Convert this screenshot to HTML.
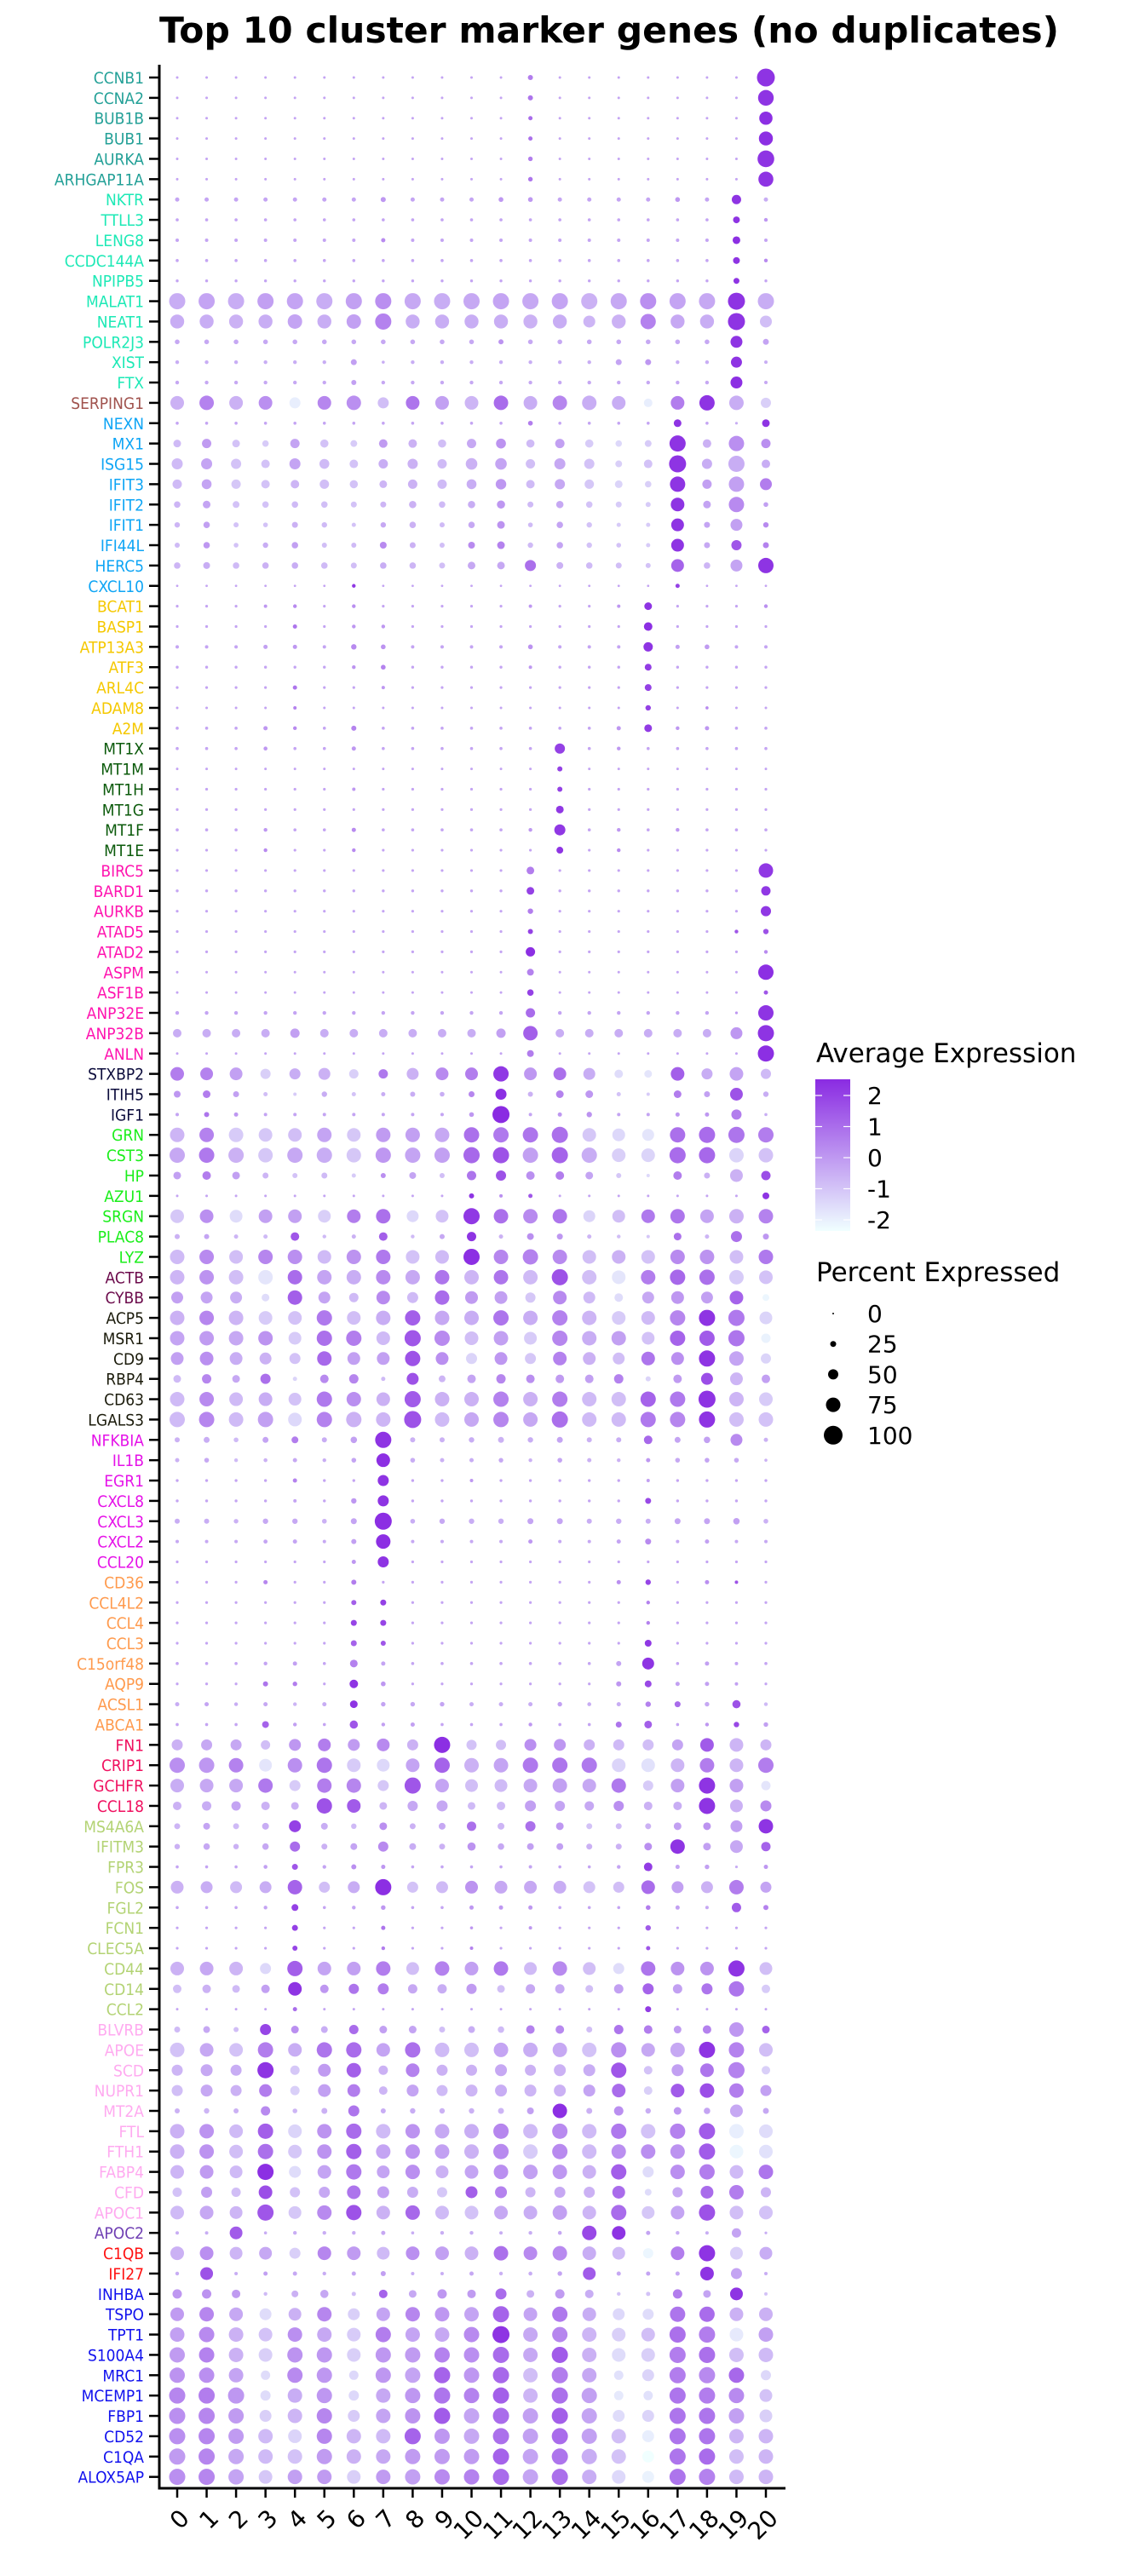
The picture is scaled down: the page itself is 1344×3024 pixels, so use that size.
<!DOCTYPE html>
<html><head><meta charset="utf-8"><title>Top 10 cluster marker genes</title>
<style>
html,body{margin:0;padding:0;background:#fff;}
svg{display:block;font-family:"DejaVu Sans","Liberation Sans",sans-serif;}
</style></head>
<body>
<svg id="chart" width="1344" height="3024" viewBox="0 0 1344 3024" xmlns="http://www.w3.org/2000/svg">
<rect width="1344" height="3024" fill="#fff"/>
<text x="187" y="50" font-size="42" font-weight="bold" textLength="1056" lengthAdjust="spacingAndGlyphs">Top 10 cluster marker genes (no duplicates)</text>
<g id="rowlabels"></g>
<g id="dots"></g>
<g id="xaxis"></g>
<line x1="187" y1="76" x2="187" y2="2922.5" stroke="#000" stroke-width="3"/>
<line x1="185.5" y1="2921" x2="922" y2="2921" stroke="#000" stroke-width="3"/>
<g>
<defs><linearGradient id="cg" x1="0" y1="1" x2="0" y2="0"><stop offset="0" stop-color="#f0ffff"/><stop offset="1" stop-color="#8a2be2"/></linearGradient></defs>
<text x="958" y="1247" font-size="31">Average Expression</text>
<rect x="957" y="1267" width="41" height="178" fill="url(#cg)"/>
<g id="cticks"></g>
</g>
<g>
<text x="958" y="1504" font-size="31">Percent Expressed</text>
<g id="sticks"></g>
</g>
</svg>
<script>
const clusters = ["0","1","2","3","4","5","6","7","8","9","10","11","12","13","14","15","16","17","18","19","20"];
const genes = ["CCNB1","CCNA2","BUB1B","BUB1","AURKA","ARHGAP11A","NKTR","TTLL3","LENG8","CCDC144A","NPIPB5","MALAT1","NEAT1","POLR2J3","XIST","FTX","SERPING1","NEXN","MX1","ISG15","IFIT3","IFIT2","IFIT1","IFI44L","HERC5","CXCL10","BCAT1","BASP1","ATP13A3","ATF3","ARL4C","ADAM8","A2M","MT1X","MT1M","MT1H","MT1G","MT1F","MT1E","BIRC5","BARD1","AURKB","ATAD5","ATAD2","ASPM","ASF1B","ANP32E","ANP32B","ANLN","STXBP2","ITIH5","IGF1","GRN","CST3","HP","AZU1","SRGN","PLAC8","LYZ","ACTB","CYBB","ACP5","MSR1","CD9","RBP4","CD63","LGALS3","NFKBIA","IL1B","EGR1","CXCL8","CXCL3","CXCL2","CCL20","CD36","CCL4L2","CCL4","CCL3","C15orf48","AQP9","ACSL1","ABCA1","FN1","CRIP1","GCHFR","CCL18","MS4A6A","IFITM3","FPR3","FOS","FGL2","FCN1","CLEC5A","CD44","CD14","CCL2","BLVRB","APOE","SCD","NUPR1","MT2A","FTL","FTH1","FABP4","CFD","APOC1","APOC2","C1QB","IFI27","INHBA","TSPO","TPT1","S100A4","MRC1","MCEMP1","FBP1","CD52","C1QA","ALOX5AP"];
const groupSizes = [6,10,1,9,7,6,10,3,7,2,6,7,8,4,10,10,1,2,10];
const groupColors = ["#23a097","#1de9b6","#a0524d","#0ea5f5","#f5c800","#0b5a0b","#ff14b0","#0b0b3b","#1aee1a","#6b0a4b","#1b1b0b","#e511e8","#ff9a4d","#f00f5f","#b3d374","#ffaaf0","#6f3fb3","#ff1111","#1111ee"];
const colorTicks = [2,1,0,-1,-2];
const sizeTicks = [0,25,50,75,100];
const pct = [
[5,5,5,5,5,5,5,5,5,5,5,5,20,5,5,5,5,5,5,5,95],
[5,5,5,5,5,5,5,5,5,5,5,5,20,5,5,5,5,5,5,5,82],
[5,5,5,5,5,5,5,5,5,5,5,5,15,5,5,5,5,5,5,5,68],
[5,5,5,5,5,5,5,5,5,5,5,5,15,5,5,5,5,5,5,5,72],
[5,5,5,5,5,5,5,5,5,5,5,5,17,5,5,5,5,5,5,5,88],
[5,5,5,5,5,5,5,5,5,5,5,5,17,5,5,5,5,5,5,5,78],
[15,15,15,15,15,15,15,20,15,15,15,18,18,15,15,15,15,18,15,45,15],
[8,8,8,8,8,8,8,8,8,8,8,8,8,8,8,8,8,8,8,30,12],
[10,10,10,10,10,10,10,15,10,10,10,10,10,10,10,10,10,10,10,35,10],
[8,8,8,8,8,8,8,8,8,8,8,8,8,8,8,8,8,8,8,30,12],
[7,7,7,7,7,7,7,7,7,7,7,7,7,7,7,7,7,7,7,25,7],
[85,85,85,85,85,85,85,85,85,85,85,85,85,85,85,85,85,85,85,90,85],
[72,72,72,72,75,72,75,85,72,72,72,72,72,72,60,72,80,72,72,90,60],
[18,18,18,18,18,18,18,18,18,18,18,20,18,18,18,18,18,18,18,60,25],
[12,12,12,12,12,12,25,8,12,12,12,12,12,12,12,25,25,12,12,55,10],
[12,12,12,12,12,12,20,12,12,12,12,12,12,12,12,12,12,12,12,60,10],
[70,75,70,70,55,70,75,55,70,70,70,75,70,75,75,70,40,70,80,75,50],
[8,8,8,8,8,8,8,8,8,8,8,8,18,8,8,8,8,35,8,6,35],
[35,45,35,28,45,38,30,40,40,38,45,48,38,45,38,28,30,85,40,80,45],
[55,55,50,40,55,48,40,45,50,45,58,58,45,55,50,30,40,90,50,85,40],
[45,48,45,40,40,45,38,35,45,45,48,52,40,50,45,35,28,80,45,80,60],
[28,35,30,28,28,28,25,25,33,28,33,38,25,33,28,25,20,70,35,80,18],
[22,28,20,18,25,22,15,22,28,20,28,35,18,28,22,15,15,65,25,60,22],
[20,28,18,22,28,20,20,30,25,20,30,35,22,28,22,18,15,65,25,50,25],
[28,30,28,28,28,28,25,28,28,25,35,35,55,30,28,25,20,65,28,60,80],
[4,4,4,4,4,4,12,4,4,4,4,4,4,4,4,4,4,15,4,4,4],
[6,6,6,10,12,6,12,6,6,6,6,6,10,6,6,10,35,6,6,6,12],
[6,6,6,6,15,6,12,12,6,6,6,6,6,6,6,6,40,6,6,6,6],
[10,10,10,15,15,10,22,18,10,10,10,10,18,10,10,10,45,15,18,10,10],
[7,7,7,7,7,7,12,18,7,7,7,7,10,7,7,7,30,7,7,7,7],
[6,6,6,6,15,6,6,10,6,6,6,6,6,6,6,6,30,6,6,6,6],
[5,5,5,5,10,5,5,5,5,5,5,5,5,5,5,5,22,5,8,5,5],
[8,8,8,15,12,8,20,8,8,8,8,8,8,8,8,15,35,12,15,8,8],
[8,8,8,13,8,8,15,8,8,8,8,8,8,50,8,12,8,8,8,8,8],
[5,5,5,5,5,5,5,5,5,5,5,5,5,20,5,5,5,5,5,5,5],
[6,6,6,6,6,6,10,6,6,6,6,6,6,20,6,6,6,6,6,6,6],
[6,6,6,6,6,6,6,6,6,6,6,6,6,35,6,6,6,6,6,6,6],
[8,8,8,12,8,8,15,8,8,8,8,8,12,55,8,12,8,12,8,8,8],
[6,6,6,12,6,6,12,6,6,6,6,6,6,30,6,12,6,6,6,6,6],
[6,6,6,6,6,6,6,6,6,6,6,6,35,6,6,6,6,6,6,6,75],
[7,7,7,7,7,7,7,7,7,7,7,7,35,7,7,7,7,7,7,7,45],
[6,6,6,6,6,6,6,6,6,6,6,6,22,6,6,6,6,6,6,6,50],
[6,6,6,6,6,6,6,6,6,6,6,6,20,6,6,6,6,6,6,12,22],
[6,6,6,6,6,6,6,6,6,6,6,6,45,6,6,6,6,6,6,6,12],
[5,5,5,5,5,5,5,5,5,5,5,5,30,5,5,5,5,5,5,5,80],
[5,5,5,5,5,5,5,5,5,5,5,5,28,5,5,5,5,5,5,5,15],
[12,12,12,12,12,12,12,12,12,12,12,12,45,12,12,12,12,12,12,6,80],
[40,40,40,40,45,40,40,40,40,40,40,45,75,40,40,40,40,40,40,60,85],
[5,5,5,5,5,5,5,5,5,5,5,5,30,5,5,5,5,5,5,5,85],
[70,65,65,50,55,60,45,45,60,65,65,80,65,65,60,40,35,70,55,70,50],
[30,35,25,15,10,22,15,15,20,18,25,55,20,35,35,15,10,35,25,65,22],
[10,20,15,10,10,10,10,10,10,10,18,90,10,15,22,10,10,15,15,50,8],
[75,75,75,70,70,75,70,75,75,75,80,80,80,85,70,65,60,80,85,85,80],
[80,80,80,75,80,80,75,80,80,80,85,85,80,85,80,70,70,85,85,75,75],
[35,40,35,25,20,25,15,20,30,20,45,50,40,40,35,20,10,40,25,65,45],
[5,5,5,5,5,5,5,5,5,5,20,10,15,5,5,5,5,5,5,5,30],
[70,70,65,70,70,65,70,75,60,65,85,75,75,75,60,65,70,75,70,75,75],
[20,20,15,15,40,12,15,40,12,20,45,15,30,25,15,12,10,35,15,55,25],
[75,75,70,75,75,70,75,75,70,70,85,75,80,75,70,70,70,75,75,70,75],
[75,75,75,75,75,75,75,75,75,75,75,75,75,85,75,70,75,80,80,75,70],
[60,60,60,35,75,60,45,70,55,75,65,65,50,70,60,40,60,65,60,70,30],
[75,75,75,70,70,80,70,75,80,75,75,80,75,80,75,70,70,80,85,85,65],
[75,75,75,75,65,80,80,70,85,80,70,75,65,80,75,75,65,80,80,85,45],
[65,70,65,60,55,75,65,65,80,65,55,65,55,70,65,60,70,65,85,75,50],
[35,45,35,50,15,40,45,15,60,30,40,45,40,40,40,45,20,40,60,65,40],
[75,75,70,70,65,80,75,70,85,75,75,80,75,80,75,75,80,80,90,75,70],
[80,80,75,80,70,80,80,75,90,75,75,80,75,85,75,75,80,80,85,75,75],
[20,25,18,25,30,20,28,85,20,20,22,25,22,25,20,20,40,25,28,60,15],
[15,18,12,13,15,12,18,70,18,15,15,17,12,18,15,12,15,18,18,18,8],
[7,7,7,7,15,7,7,55,7,7,10,7,7,7,7,7,10,7,7,7,7],
[7,7,7,7,10,7,22,55,7,7,7,7,7,7,7,7,25,7,7,7,7],
[20,20,17,22,22,18,25,90,18,22,22,22,25,25,20,22,20,25,25,28,18],
[10,10,10,14,15,10,20,75,10,10,10,10,15,10,10,15,25,10,15,10,10],
[6,6,6,6,6,6,15,55,6,6,6,6,6,6,6,6,6,6,6,6,6],
[6,6,6,15,6,6,20,6,6,6,6,6,6,6,6,15,22,6,15,10,6],
[6,6,6,6,6,6,20,25,6,6,6,6,6,6,6,6,12,6,6,6,6],
[6,6,6,6,6,6,25,25,6,6,6,6,6,6,6,6,12,6,6,6,6],
[6,6,6,6,6,6,25,20,6,6,6,6,6,6,6,6,30,6,6,6,6],
[8,8,8,12,15,8,35,15,8,8,8,8,8,8,8,20,60,8,15,10,8],
[6,6,6,20,17,6,40,18,6,6,6,6,6,6,6,20,30,15,15,10,6],
[15,15,12,15,12,15,35,17,17,17,15,15,15,17,13,15,22,25,17,38,12],
[8,8,8,30,12,8,38,12,15,8,8,8,12,8,8,25,35,8,12,22,17],
[55,55,55,45,60,65,60,65,55,85,50,50,60,60,55,55,55,55,70,70,55],
[80,80,75,65,75,80,70,65,70,80,75,75,80,80,80,70,70,70,75,70,80],
[70,70,70,75,55,75,75,55,85,70,65,65,70,75,70,75,50,70,85,70,45],
[40,45,45,40,35,80,70,35,50,55,35,40,55,50,45,50,40,40,85,65,55],
[25,30,25,30,60,30,22,35,25,30,45,30,50,35,25,25,25,35,35,60,75],
[22,28,22,28,50,25,30,50,30,25,38,28,30,30,25,25,35,75,35,65,45],
[8,8,8,13,25,12,20,15,8,8,8,8,10,8,8,12,40,15,17,6,15],
[65,60,60,60,75,55,60,85,55,60,65,65,65,65,60,55,70,60,60,75,55],
[8,8,8,12,30,8,12,17,8,8,15,15,15,8,8,8,18,15,10,45,20],
[6,6,6,6,25,6,6,15,6,6,8,6,10,6,6,6,22,6,6,6,6],
[6,6,6,6,20,6,6,12,6,6,10,6,6,6,6,6,15,6,6,6,6],
[70,70,70,55,80,70,70,75,65,75,70,75,65,75,65,55,75,70,70,85,65],
[40,40,35,40,70,40,50,55,45,45,50,35,45,45,35,45,55,45,55,80,40],
[5,5,5,5,15,5,5,5,5,5,5,5,5,5,5,5,25,5,5,5,5],
[25,30,20,55,35,30,45,35,35,25,30,28,40,40,25,45,40,35,40,75,35],
[75,70,70,80,70,80,80,70,80,75,75,75,75,75,75,80,70,75,85,80,70],
[55,60,55,85,45,65,75,45,70,55,55,60,55,60,60,80,40,60,70,85,40],
[55,60,55,65,45,65,65,40,60,55,60,60,60,60,60,70,40,70,75,75,55],
[20,22,20,45,18,25,55,20,22,22,22,25,30,75,25,45,22,35,28,65,25],
[75,75,70,80,70,75,80,75,75,75,75,80,75,80,75,80,75,80,85,75,70],
[75,75,70,80,70,75,80,75,75,75,75,80,75,80,75,75,75,75,85,70,70],
[70,70,65,85,60,70,80,65,75,65,70,75,75,75,70,80,55,75,80,70,75],
[45,55,45,70,50,55,70,60,55,50,60,60,50,55,55,65,30,50,65,75,50],
[70,70,65,85,65,75,80,70,75,70,70,70,70,75,70,80,65,70,85,70,70],
[10,10,65,8,12,12,12,15,8,12,12,10,12,13,75,70,15,12,10,45,6],
[70,70,65,65,55,70,70,65,70,70,70,75,70,75,70,65,50,70,85,65,65],
[12,65,10,15,15,12,15,20,10,10,15,12,13,17,65,15,15,15,70,55,10],
[45,45,40,12,30,38,15,40,35,45,40,55,35,45,40,12,15,45,35,65,10],
[70,75,70,60,65,75,60,70,75,75,75,85,70,80,70,60,55,80,80,70,70],
[75,80,75,70,75,75,70,80,75,75,80,90,75,80,75,70,70,85,85,70,75],
[80,80,75,70,80,80,70,80,80,80,80,85,75,85,75,70,70,85,85,75,75],
[80,80,75,45,80,80,45,80,80,85,80,85,75,85,75,45,60,85,85,80,50],
[85,85,85,50,75,80,50,75,80,85,80,85,75,85,80,45,45,85,85,80,65],
[85,85,80,60,75,80,60,75,80,85,80,85,80,85,80,60,60,85,85,80,65],
[85,85,80,75,70,80,75,75,85,80,80,85,80,85,80,75,60,85,85,75,75],
[85,85,80,75,75,80,75,75,80,80,80,85,80,85,80,75,60,85,85,75,75],
[85,85,80,70,75,75,70,75,80,80,80,85,80,85,75,70,60,85,85,75,75]
];
const avg = [
[-.3,-.3,-.3,-.3,-.3,-.3,-.3,-.3,-.3,-.3,-.3,-.3,.6,-.3,-.3,-.3,-.3,-.3,-.3,-.3,2.3],
[-.3,-.3,-.3,-.3,-.3,-.3,-.3,-.3,-.3,-.3,-.3,-.3,.8,-.3,-.3,-.3,-.3,-.3,-.3,-.3,2.3],
[-.3,-.3,-.3,-.3,-.3,-.3,-.3,-.3,-.3,-.3,-.3,-.3,1.0,-.3,-.3,-.3,-.3,-.3,-.3,-.3,2.4],
[-.3,-.3,-.3,-.3,-.3,-.3,-.3,-.3,-.3,-.3,-.3,-.3,.9,-.3,-.3,-.3,-.3,-.3,-.3,-.3,2.4],
[-.3,-.3,-.3,-.3,-.3,-.3,-.3,-.3,-.3,-.3,-.3,-.3,.6,-.3,-.3,-.3,-.3,-.3,-.3,-.3,2.3],
[-.3,-.3,-.3,-.3,-.3,-.3,-.3,-.3,-.3,-.3,-.3,-.3,.8,-.3,-.3,-.3,-.3,-.3,-.3,-.3,2.3],
[-.3,-.3,-.3,-.3,-.3,-.3,-.3,0,-.3,-.3,-.3,0,0,-.3,-.3,-.3,-.3,0,-.3,2.3,-.5],
[-.3,-.3,-.3,-.3,-.3,-.3,-.3,-.3,-.3,-.3,-.3,-.3,-.3,-.3,-.3,-.3,-.3,-.3,-.3,2.3,0],
[-.3,-.3,-.3,-.3,-.3,-.3,-.3,.3,-.3,-.3,-.3,-.3,-.3,-.3,-.3,-.3,-.3,-.3,-.3,2.4,-.3],
[-.3,-.3,-.3,-.3,-.3,-.3,-.3,-.3,-.3,-.3,-.3,-.3,-.3,-.3,-.3,-.3,-.3,-.3,-.3,2.3,.3],
[-.3,-.3,-.3,-.3,-.3,-.3,-.3,-.3,-.3,-.3,-.3,-.3,-.3,-.3,-.3,-.3,-.3,-.3,-.3,2.3,-.3],
[-.5,-.3,-.5,-.2,-.3,-.5,-.2,.2,-.4,-.5,-.4,-.3,-.4,-.3,-.6,-.4,.2,-.3,-.4,2.3,-.5],
[-.5,-.5,-.6,-.5,-.3,-.5,-.2,.5,-.5,-.5,-.5,-.5,-.6,-.5,-.7,-.6,.5,-.4,-.5,2.3,-.9],
[-.4,-.4,-.4,-.4,-.4,-.4,-.4,-.4,-.4,-.4,-.4,.1,-.4,-.4,-.4,-.4,-.4,-.4,-.4,2.3,-.3],
[-.5,-.5,-.5,-.5,-.5,-.5,-.2,-.5,-.5,-.5,-.5,-.5,-.5,-.5,-.5,-.3,0,-.5,-.5,2.3,-.5],
[-.4,-.4,-.4,-.4,-.4,-.4,-.2,-.4,-.4,-.4,-.4,-.4,-.4,-.4,-.4,-.4,-.4,-.4,-.4,2.4,-.4],
[-.6,.5,-.6,.2,-2,.4,.2,-.9,.8,-.2,-.7,1,-.5,.4,-.5,-.5,-2,.6,2.3,-.5,-1.3],
[-.3,-.3,-.3,-.3,-.3,-.3,-.3,-.3,-.3,-.3,-.3,-.3,.6,-.3,-.3,-.3,-.3,2.3,-.3,-.5,2.3],
[-.8,-.1,-1,-1.2,-.3,-1,-1.2,-.1,-.6,-.9,-.4,.1,-.8,-.2,-1.2,-1.5,-1.2,2.3,-.6,.2,.2],
[-.8,-.3,-1,-1,-.3,-.8,-1,-.5,-.6,-.8,-.6,-.3,-.9,-.4,-1,-1.3,-1,2.3,-.5,-.5,-.5],
[-.8,-.3,-1.1,-1,-.7,-.9,-1,-.7,-.6,-.8,-.5,0,-.8,-.4,-1.1,-1.4,-1.3,2.3,-.2,-.2,.6],
[-.7,-.3,-1,-1,-.8,-.9,-1,-.7,-.6,-.8,-.5,0,-.8,-.4,-1,-1.2,-1.2,2.3,-.3,.3,-.2],
[-.7,-.2,-1,-1,-.6,-.8,-1,-.4,-.6,-.8,-.4,.1,-.8,-.3,-1,-1.2,-1.2,2.3,-.3,-.2,.3],
[-.8,0,-1,-.5,-.2,-.9,-.8,.3,-.6,-.9,.3,.5,-.8,-.3,-1,-1,-1.2,2.3,-.4,1.5,.5],
[-.7,-.5,-.8,-.6,-.5,-.8,-.9,-.5,-.7,-.9,-.4,-.4,.9,-.6,-.8,-.9,-1,1.2,-.7,-.3,2.3],
[-.3,-.3,-.3,-.3,-.3,-.3,2.2,-.3,-.3,-.3,-.3,-.3,-.3,-.3,-.3,-.3,-.3,2.0,-.3,-.3,-.3],
[-.3,-.3,-.3,0,.3,-.3,.2,-.3,-.3,-.3,-.3,-.3,0,-.3,-.3,0,2.3,-.3,-.3,-.3,.2],
[-.3,-.3,-.3,-.3,.8,-.3,0,0,-.3,-.3,-.3,-.3,-.3,-.3,-.3,-.3,2.4,-.3,-.3,-.3,-.3],
[-.3,-.3,-.3,-.2,0,-.3,.3,.1,-.3,-.3,-.3,-.3,.1,-.3,-.3,-.3,2.3,-.2,-.1,-.3,-.3],
[-.3,-.3,-.3,-.3,-.3,-.3,.1,.5,-.3,-.3,-.3,-.3,0,-.3,-.3,-.3,2.1,-.3,-.3,-.3,-.3],
[-.3,-.3,-.3,-.3,.8,-.3,-.3,0,-.3,-.3,-.3,-.3,-.3,-.3,-.3,-.3,2.0,-.3,-.3,-.3,-.3],
[-.3,-.3,-.3,-.3,.5,-.3,-.3,-.3,-.3,-.3,-.3,-.3,-.3,-.3,-.3,-.3,2.0,-.3,.3,-.3,-.3],
[-.3,-.3,-.3,0,.3,-.3,.5,-.3,-.3,-.3,-.3,-.3,-.3,-.3,-.3,0,2.1,0,0,-.3,-.3],
[-.3,-.3,-.3,0,-.3,-.3,0,-.3,-.3,-.3,-.3,-.3,-.3,2.0,-.3,0,-.3,-.3,-.3,-.3,-.3],
[-.3,-.3,-.3,-.3,-.3,-.3,-.3,-.3,-.3,-.3,-.3,-.3,-.3,2.0,-.3,-.3,-.3,-.3,-.3,-.3,-.3],
[-.3,-.3,-.3,-.3,-.3,-.3,0,-.3,-.3,-.3,-.3,-.3,-.3,2.0,-.3,-.3,-.3,-.3,-.3,-.3,-.3],
[-.3,-.3,-.3,-.3,-.3,-.3,-.3,-.3,-.3,-.3,-.3,-.3,-.3,2.2,-.3,-.3,-.3,-.3,-.3,-.3,-.3],
[-.3,-.3,-.3,0,-.3,-.3,.3,-.3,-.3,-.3,-.3,-.3,0,2.2,-.3,0,-.3,0,-.3,-.3,-.3],
[-.3,-.3,-.3,.3,-.3,-.3,.3,-.3,-.3,-.3,-.3,-.3,-.3,2.3,-.3,.3,-.3,-.3,-.3,-.3,-.3],
[-.3,-.3,-.3,-.3,-.3,-.3,-.3,-.3,-.3,-.3,-.3,-.3,.6,-.3,-.3,-.3,-.3,-.3,-.3,-.3,2.2],
[-.3,-.3,-.3,-.3,-.3,-.3,-.3,-.3,-.3,-.3,-.3,-.3,2.0,-.3,-.3,-.3,-.3,-.3,-.3,-.3,2.2],
[-.3,-.3,-.3,-.3,-.3,-.3,-.3,-.3,-.3,-.3,-.3,-.3,.6,-.3,-.3,-.3,-.3,-.3,-.3,-.3,2.2],
[-.3,-.3,-.3,-.3,-.3,-.3,-.3,-.3,-.3,-.3,-.3,-.3,2.0,-.3,-.3,-.3,-.3,-.3,-.3,1.5,1.6],
[-.3,-.3,-.3,-.3,-.3,-.3,-.3,-.3,-.3,-.3,-.3,-.3,2.4,-.3,-.3,-.3,-.3,-.3,-.3,-.3,.3],
[-.3,-.3,-.3,-.3,-.3,-.3,-.3,-.3,-.3,-.3,-.3,-.3,.5,-.3,-.3,-.3,-.3,-.3,-.3,-.3,2.4],
[-.3,-.3,-.3,-.3,-.3,-.3,-.3,-.3,-.3,-.3,-.3,-.3,2.0,-.3,-.3,-.3,-.3,-.3,-.3,-.3,1.5],
[-.3,-.3,-.3,-.3,-.3,-.3,-.3,-.3,-.3,-.3,-.3,-.3,1.0,-.3,-.3,-.3,-.3,-.3,-.3,0,2.3],
[-.5,-.5,-.5,-.5,-.2,-.5,-.5,-.5,-.5,-.5,-.5,-.2,1.3,-.5,-.5,-.5,-.5,-.5,-.5,0,2.3],
[-.3,-.3,-.3,-.3,-.3,-.3,-.3,-.3,-.3,-.3,-.3,-.3,.6,-.3,-.3,-.3,-.3,-.3,-.3,-.3,2.4],
[.6,.5,-.2,-1.3,-.5,-.6,-1.3,.7,-.6,.3,.6,2.2,0,.9,-.5,-1.6,-1.8,1.3,-.5,-.3,-.8],
[0,.6,-.2,-.9,-1.2,-.5,-1,-.5,-.5,-.5,.4,2.4,-.6,.5,0,-1,-1.2,.6,-.2,1.6,-.5],
[-.3,.8,0,-.3,-.3,-.3,-.3,-.3,-.3,-.3,0,2.5,-.3,0,.1,-.3,-.3,0,0,.6,-.5],
[-.7,.5,-1.2,-1.1,-.9,-.3,-1.1,-.1,-.2,-.4,.9,.7,.8,.9,-1.1,-1.5,-1.8,.9,1,.8,.6],
[-.4,.7,-.6,-1.1,-.4,-.5,-1.1,0,-.3,-.2,1.1,1.6,-.2,1.2,-.5,-1.3,-1.4,1,1.1,-1.4,-1],
[-.2,.6,-.2,-.7,-1,-.8,-1.2,.2,-.3,-.9,.8,1.6,.2,.6,-.3,-1.1,-1.5,.6,-.6,-.6,1.7],
[-.3,-.3,-.3,-.3,-.3,-.3,-.3,-.3,-.3,-.3,2.3,.2,1.5,-.3,-.3,-.3,-.3,-.3,-.3,-.3,2.3],
[-1.1,.2,-1.6,-.2,-.2,-1.3,.6,.9,-1.5,-1,2.2,.9,.3,.8,-1.4,-.9,.7,.8,-.3,-.6,.5],
[-.6,-.3,-.7,-.8,1.5,-.8,-.6,1.3,-.8,-.4,2.3,-.6,.2,0,-.7,-.9,-1.1,.9,-.7,.9,0],
[-.8,.3,-.9,.4,.2,-.8,.1,.7,-1,-.8,2.4,.4,.5,.3,-.9,-.6,-1,.3,.1,-.9,.7],
[-.7,.1,-.9,-1.8,1,-.3,-.5,.3,-.4,.8,-.7,.8,-.8,1.6,-.9,-1.8,.6,1.1,.9,-1.2,-1],
[-.2,-.3,-.5,-1.6,1.3,-.3,-.8,.3,-.8,1,-.1,-.2,-1.1,.3,-.8,-1.6,-.4,0,-.2,1.2,-2.2],
[-.6,.4,-.7,-1.2,-1,.7,-.9,-.5,1.3,-.4,-.5,.8,-.5,.5,-.7,-1.2,-.8,.4,2.3,.7,-1.4],
[-.3,-.1,-.4,.1,-1.2,.9,.6,-.8,1.5,.3,-.9,-.2,-1.2,.4,-.5,-.2,-1,1.2,1.4,.8,-2.1],
[-.2,.2,-.5,-.6,-1,1.1,-.2,-.2,1.6,.2,-1.4,0,-1.1,.5,-.6,-.9,.8,.2,2.3,-.3,-1.4],
[-.8,.4,-.4,.9,-1.4,.3,.4,-.8,1.6,-.7,-.3,.4,.2,-.1,-.2,.5,-1.4,-.1,1.7,-.7,-.2],
[-.8,.3,-.8,-.5,-1,.7,.2,-.6,1.4,-.6,-.6,.5,-.6,.6,-.8,-.9,1.2,.7,2.3,-.7,-1.2],
[-.8,.4,-.8,-.2,-1.5,.5,-.6,-.7,1.6,-.8,-.4,.4,-.4,.9,-.8,-.8,.7,.4,2.3,-.9,-1],
[-.6,-.5,-.8,-.3,.6,-.5,-.2,2.3,-.6,-.6,-.5,-.6,-.5,-.3,-.6,-.5,1.1,-.3,-.2,.3,-.6],
[-.6,-.4,-.8,-.6,-.4,-.5,-.3,2.4,-.5,-.6,-.5,-.4,-.6,-.3,-.6,-.6,0,-.4,-.3,-.4,-.6],
[-.3,-.3,-.3,-.3,.5,-.3,-.3,2.3,-.3,-.3,0,-.3,-.3,-.3,-.3,-.3,-.2,-.3,-.3,-.3,-.3],
[-.3,-.3,-.3,-.3,-.3,-.3,0,2.3,-.3,-.3,-.3,-.3,-.3,-.3,-.3,-.3,1.8,-.3,-.3,-.3,-.3],
[-.5,-.5,-.6,-.4,-.4,-.6,-.3,2.4,-.5,-.4,-.5,-.5,-.3,-.3,-.5,-.5,-.5,-.3,-.3,-.2,-.6],
[-.4,-.4,-.4,-.3,-.3,-.4,-.2,2.4,-.4,-.4,-.4,-.4,0,-.4,-.4,-.3,.3,-.4,-.2,-.4,-.4],
[-.3,-.3,-.3,-.3,-.3,-.3,0,2.3,-.3,-.3,-.3,-.3,-.3,-.3,-.3,-.3,-.3,-.3,-.3,-.3,-.3],
[-.3,-.3,-.3,.4,-.3,-.3,.6,-.3,-.3,-.3,-.3,-.3,-.3,-.3,-.3,.2,1.9,-.3,.2,1.6,-.3],
[-.3,-.3,-.3,-.3,-.3,-.3,1.3,2.0,-.3,-.3,-.3,-.3,-.3,-.3,-.3,-.3,.5,-.3,-.3,-.3,-.3],
[-.3,-.3,-.3,-.3,-.3,-.3,1.9,1.9,-.3,-.3,-.3,-.3,-.3,-.3,-.3,-.3,.5,-.3,-.3,-.3,-.3],
[-.3,-.3,-.3,-.3,-.3,-.3,1.2,1.5,-.3,-.3,-.3,-.3,-.3,-.3,-.3,-.3,2.2,-.3,-.3,-.3,-.3],
[-.3,-.3,-.3,-.3,-.2,-.3,.5,-.3,-.3,-.3,-.3,-.3,-.3,-.3,-.3,-.3,2.3,-.3,-.2,-.3,-.3],
[-.3,-.3,-.3,.8,.6,-.3,2.3,0,-.3,-.3,-.3,-.3,-.3,-.3,-.3,0,1.8,-.2,-.2,-.2,-.3],
[-.5,-.3,-.5,-.4,-.7,-.5,2.3,-.3,-.4,-.3,-.5,-.5,-.5,-.2,-.5,-.5,.5,1,-.4,1.6,-.8],
[-.3,-.3,-.3,1.2,-.2,-.3,1.5,-.2,-.2,-.3,-.3,-.3,0,-.3,-.3,.8,1.3,-.3,0,1.8,-.2],
[-.6,-.4,-.4,-.9,0,.6,-.1,.3,-.6,2.4,-1,-.9,.2,0,-.6,-.8,-.9,-.3,1.4,-.7,-.7],
[.2,0,.5,-1.8,.2,.8,-1.2,-1.5,-.3,1.2,-.6,-.3,.7,.8,.7,-1.4,-1.7,-.7,.6,-.7,.6],
[-.5,-.4,-.4,.7,-1.2,.6,.4,-1.1,1.5,-.3,-.9,-.8,-.4,-.2,-.4,.7,-1.2,-.2,2.3,-.2,-1.8],
[-.6,-.5,-.3,-.6,-.6,1.6,1.4,-.7,-.4,-.4,-.8,-.8,-.2,-.3,-.4,.2,-.6,-.5,2.3,-.6,.3],
[-.7,-.3,-.8,-.5,2,-.5,-.8,.2,-.6,-.4,.9,-.7,.9,0,-1,-.8,-.6,-.2,.1,-.2,2.3],
[-.6,-.4,-.6,-.4,1,-.6,-.3,.3,-.5,-.6,.1,-.4,-.2,-.2,-.6,-.6,.2,2.3,-.2,-.4,1.2],
[-.3,-.3,-.3,-.2,1.5,-.3,.2,0,-.3,-.3,-.3,-.3,-.3,-.3,-.3,-.3,2.1,-.3,-.2,-.5,0],
[-.6,-.5,-.8,-.5,1.2,-.9,-.5,2.4,-1,-.8,.1,-.4,-.4,-.5,-1,-.9,1,-.2,-.6,.6,-.3],
[-.3,-.3,-.3,-.3,2,-.3,-.3,0,-.3,-.3,0,0,0,-.3,-.3,-.3,.6,-.2,-.4,1.4,.5],
[-.3,-.3,-.3,-.3,2,-.3,-.3,.8,-.3,-.3,0,-.3,0,-.3,-.3,-.3,1.4,-.3,-.3,-.3,-.3],
[-.3,-.3,-.3,-.3,1.9,-.3,-.3,.6,-.3,-.3,.5,-.3,-.3,-.3,-.3,-.3,1.5,-.3,-.3,-.3,-.3],
[-.6,-.4,-.7,-1.5,1.3,-.3,-.2,.6,-.9,.5,-.2,.7,-.8,.3,-.9,-1.6,.8,.1,.1,2.3,-.9],
[-.9,-.6,-.8,-.2,2.3,0,.8,.6,-.4,-.5,-.1,-.9,-.4,-.4,-.9,-.2,1.2,-.2,.8,.8,-1.2],
[-.3,-.3,-.3,-.3,1,-.3,-.3,-.3,-.3,-.3,-.3,-.3,-.3,-.3,-.3,-.3,2.1,-.3,-.3,-.3,-.3],
[-.8,-.4,-.9,1.9,.2,-.5,1,-.2,-.3,-.9,-.5,-.8,.5,.3,-.9,.8,.6,-.1,.5,0,1.2],
[-1,-.4,-1,.6,-.5,.8,1,-.3,.9,-.8,-.9,-.3,-.5,-.4,-1,.2,-.4,-.4,2.3,.5,-.9],
[-.7,-.4,-.5,2.3,-1.1,-.1,1.3,-.6,.5,-.6,-.6,-.4,-.6,-.6,-.5,1.5,-1,-.2,.8,.5,-1.3],
[-.9,-.4,-.6,.6,-1.3,-.2,.6,-.7,-.3,-.8,-.7,-.5,-.7,-.6,-.3,1,-1.3,1.4,1.7,.6,-.2],
[-.6,-.7,-.6,.3,-.7,-.6,.8,-.5,-.5,-.6,-.6,-.7,-.2,2.4,-.6,.2,-.5,0,-.3,-.4,-.4],
[-.6,.1,-.8,1.3,-1.4,.1,1,-.8,.1,-.4,-.5,.4,-.8,.3,-.8,.7,-1,.5,1.4,-2,-1.6],
[-.6,.1,-.9,.9,-1.1,.1,1.3,-.3,.1,-.2,-.6,.3,-1.2,.3,-.8,.2,.2,.1,1.4,-2.2,-1.7],
[-.7,-.1,-.8,2.4,-1.6,-.3,.7,-.3,.2,-.6,-.3,.2,-.2,0,-.6,1.3,-1.6,.2,.6,-.8,.8],
[-1,-.2,-.9,1.7,-1,-.4,.8,-.2,-.5,-1.1,1.3,.5,-.7,-.4,-.6,1,-1.6,-.4,1,.6,-.7],
[-.8,-.4,-.7,1.5,-1.1,.3,1.6,-.6,1.1,-.8,-1,-.4,-.5,-.2,-.7,1,-1.1,-.3,1.6,-.9,-1],
[-.5,-.5,1.4,-.5,-.5,-.5,-.5,-.4,-.5,-.5,-.5,-.5,-.5,-.4,1.8,2.3,-.3,-.5,-.5,-.3,-.5],
[-.6,.2,-.7,-.4,-1.3,.4,-.1,-.8,.2,-.2,-.6,.9,.3,.3,-.5,-.8,-2.2,.6,2.3,-1.3,-.5],
[-.5,1.6,-.5,-.2,-.4,-.5,-.4,-.2,-.5,-.5,-.4,-.6,-.5,-.3,1.4,-.4,-.3,-.4,2.3,-.3,-.5],
[0,.1,-.1,-.8,-.6,-.4,-.9,1.2,-.4,0,-.1,1,-.6,-.1,-.5,-1,-1,.6,-.3,2.3,-1],
[-.1,.4,-.4,-1.6,-.6,.4,-1.3,-.3,.4,0,-.3,1.2,-.3,.7,-.5,-1.5,-1.6,.8,1,-.6,-.6],
[-.2,.3,-.6,-1,.2,-.4,-1.2,.6,-.3,-.4,.3,2.3,-.4,.4,-.7,-1.3,-.9,.9,.6,-1.9,-.2],
[-.1,.5,-.6,-1.3,.1,0,-1.3,0,-.1,.5,.2,1,-.4,1.4,-.6,-1.6,-1.3,.6,.9,-.9,-.8],
[.1,.2,-.3,-1.6,.3,0,-1.5,0,-.3,1.2,0,1.1,-.9,.6,-.4,-1.7,-1.4,.6,.3,1.1,-1.5],
[.4,.6,0,-1.6,-.5,0,-1.5,-.4,0,.8,.5,1.3,-.7,.9,-.2,-1.9,-1.7,.8,.6,.3,-1],
[.2,.4,-.1,-1.3,-.7,.4,-1.2,-.3,.1,1.4,-.3,1,-.2,1.3,-.3,-1.6,-1.4,.8,.8,-.2,-1.3],
[.2,.4,-.1,-.8,-1.4,.4,-.7,-.8,1.2,0,-.4,.9,-.2,1,-.2,-.9,-2,.8,.8,-.7,-.7],
[-.1,.4,-.4,-.8,-1,-.1,-.6,-.4,-.1,-.1,-.1,1.2,-.3,.8,-.5,-1,-2.4,.8,1,-.9,-.7],
[.2,.4,-.3,-1.1,-.2,-.1,-1.3,-.1,-.2,.3,.5,1,-.3,.9,-.5,-1.5,-2.1,.8,.5,-.8,-.7]
];

const NS = "http://www.w3.org/2000/svg";
const X0 = 208, DX = 34.55, Y0 = 91, DY = 23.87;
const VMIN = -2.4, VMAX = 2.5;
function xScale(i){ return X0 + i*DX; }
function yScale(j){ return Y0 + j*DY; }
function rScale(p){ return 1 + 0.1*p; }
function colorScale(v){
  let t = (v - VMIN)/(VMAX - VMIN); t = Math.max(0, Math.min(1, t));
  const lo = [240,255,255], hi = [138,43,226];
  const c = lo.map((l,k)=>Math.round(l + (hi[k]-l)*t));
  return "rgb(" + c.join(",") + ")";
}
function legendY(v){ return 1359 - 36.5*v; }
function mk(tag, attrs, parent){
  const e = document.createElementNS(NS, tag);
  for (const k in attrs) e.setAttribute(k, attrs[k]);
  parent.appendChild(e); return e;
}

// gene label colors
const geneColor = [];
groupSizes.forEach((n,gi)=>{ for(let k=0;k<n;k++) geneColor.push(groupColors[gi]); });

const rl = document.getElementById("rowlabels");
const dots = document.getElementById("dots");
genes.forEach((g,j)=>{
  const y = yScale(j);
  const tk = mk("line",{x1:175,y1:y,x2:187,y2:y,stroke:"#000","stroke-width":2.5}, rl);
  
  
  const t = mk("text",{x:0,y:0,"text-anchor":"end","font-size":19,fill:geneColor[j],transform:"translate(169,"+(y+7)+") scale(0.9,1)"}, rl);
  t.textContent = g;
  
  
  for (let i=0;i<clusters.length;i++){
    const c = mk("circle",{cx:xScale(i), cy:y, r:rScale(pct[j][i]), fill:colorScale(avg[j][i])}, dots);
    
    
  }
});

const xa = document.getElementById("xaxis");
clusters.forEach((c,i)=>{
  const x = xScale(i);
  const tk = mk("line",{x1:x,y1:2921,x2:x,y2:2932,stroke:"#000","stroke-width":2.5}, xa);
  
  
  const t = mk("text",{x:0,y:0,"text-anchor":"end","font-size":28,transform:"translate("+(x+2)+",2944) rotate(-45)",dy:"0.7em"}, xa);
  t.textContent = c;
  
  
});

const ct = document.getElementById("cticks");
colorTicks.forEach(v=>{
  const y = legendY(v);
  mk("line",{x1:957,y1:y,x2:965,y2:y,stroke:"#fff","stroke-width":1.2}, ct);
  mk("line",{x1:990,y1:y,x2:998,y2:y,stroke:"#fff","stroke-width":1.2}, ct);
  const t = mk("text",{x:1018,y:y+10,"font-size":28}, ct);
  t.textContent = String(v);
  
  
});

const st = document.getElementById("sticks");
sizeTicks.forEach((p,k)=>{
  const y = 1542 + k*35.7;
  const c = mk("circle",{cx:978, cy:y, r:rScale(p), fill:"#000"}, st);
  
  
  const t = mk("text",{x:1018,y:y+10,"font-size":28}, st);
  t.textContent = String(p);
  
  
});
</script>
</body></html>
